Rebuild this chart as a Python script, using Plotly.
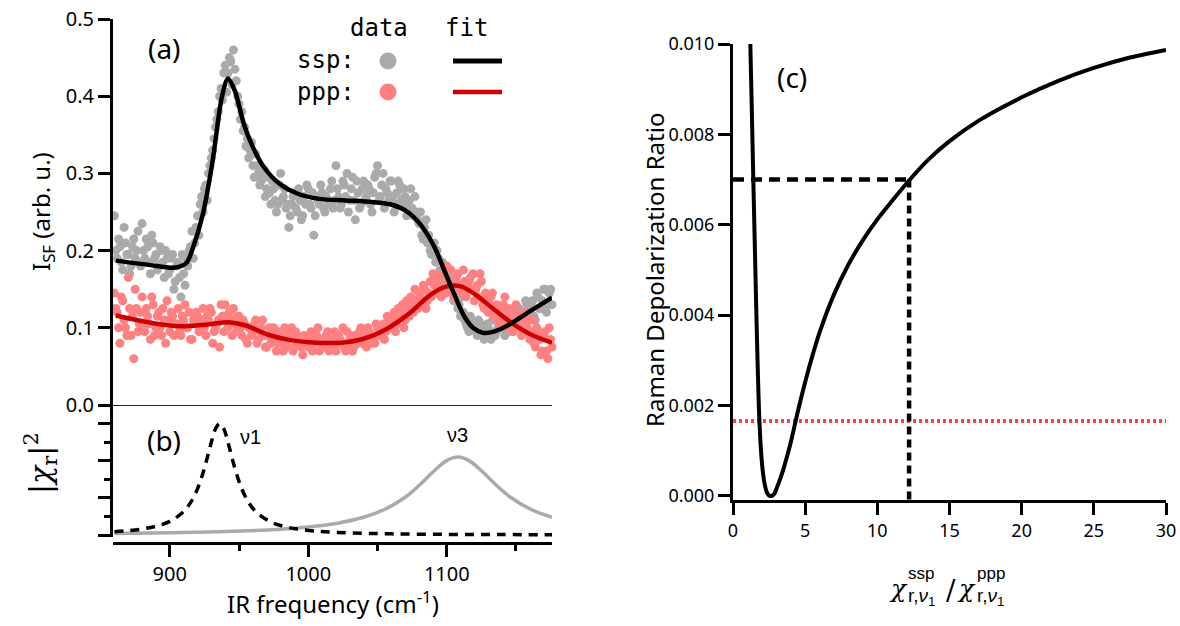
import plotly.graph_objects as go

W, H = 1180, 626

# ---------------- panel (a) data ----------------
freq_even = list(range(860, 1178, 2))
freq_odd = list(range(861, 1176, 2))
ssp_even = [
    0.245, 0.19, 0.205, 0.175, 0.21, 0.195, 0.18, 0.215, 0.2, 0.185,
    0.235, 0.19, 0.205, 0.17, 0.21, 0.195, 0.18, 0.2, 0.165, 0.19,
    0.175, 0.195, 0.16, 0.185, 0.14, 0.17, 0.19, 0.2, 0.225, 0.21,
    0.245, 0.26, 0.25, 0.285, 0.3, 0.32, 0.345, 0.37, 0.4, 0.395,
    0.44, 0.43, 0.445, 0.46, 0.42, 0.39, 0.38, 0.36, 0.345, 0.33,
    0.31, 0.325, 0.3, 0.29, 0.305, 0.28, 0.275, 0.29, 0.265, 0.26,
    0.3, 0.27, 0.255, 0.23, 0.26, 0.275, 0.25, 0.265, 0.245, 0.26,
    0.28, 0.255, 0.22, 0.27, 0.26, 0.275, 0.25, 0.265, 0.28, 0.255,
    0.31, 0.27, 0.26, 0.285, 0.3, 0.265, 0.295, 0.24, 0.275, 0.26,
    0.29, 0.27, 0.28, 0.25, 0.295, 0.31, 0.27, 0.3, 0.28, 0.265,
    0.29, 0.25, 0.275, 0.285, 0.26, 0.27, 0.255, 0.28, 0.245, 0.25,
    0.235, 0.22, 0.23, 0.21, 0.2, 0.205, 0.185, 0.19, 0.17, 0.175,
    0.165, 0.15, 0.145, 0.14, 0.125, 0.115, 0.12, 0.105, 0.095, 0.11,
    0.1, 0.09, 0.105, 0.095, 0.09, 0.1, 0.085, 0.11, 0.095, 0.1,
    0.115, 0.09, 0.105, 0.12, 0.1, 0.11, 0.125, 0.105, 0.115, 0.13,
    0.12, 0.135, 0.11, 0.14, 0.125, 0.15, 0.12, 0.145, 0.13,
]
ssp_odd = [
    0.2, 0.215, 0.185, 0.23, 0.195, 0.17, 0.205, 0.19, 0.225, 0.18,
    0.2, 0.215, 0.185, 0.22, 0.19, 0.175, 0.205, 0.185, 0.2, 0.17,
    0.19, 0.15, 0.18, 0.165, 0.195, 0.155, 0.18, 0.205, 0.19, 0.23,
    0.22, 0.27, 0.28, 0.265, 0.31, 0.33, 0.36, 0.38, 0.41, 0.43,
    0.405, 0.45, 0.415, 0.435, 0.4, 0.37, 0.355, 0.335, 0.32, 0.34,
    0.295, 0.31, 0.285, 0.3, 0.27, 0.295, 0.26, 0.28, 0.25, 0.285,
    0.265, 0.28, 0.26, 0.245, 0.27, 0.255, 0.28, 0.24, 0.27, 0.285,
    0.26, 0.275, 0.245, 0.265, 0.285, 0.255, 0.27, 0.26, 0.29, 0.265,
    0.28, 0.255, 0.29, 0.27, 0.25, 0.28, 0.265, 0.29, 0.255, 0.28,
    0.265, 0.285, 0.26, 0.275, 0.3, 0.265, 0.285, 0.255, 0.275, 0.29,
    0.27, 0.26, 0.29, 0.265, 0.28, 0.245, 0.265, 0.255, 0.27, 0.24,
    0.25, 0.215, 0.24, 0.22, 0.195, 0.21, 0.2, 0.175, 0.185, 0.16,
    0.155, 0.165, 0.135, 0.15, 0.13, 0.14, 0.11, 0.1, 0.115, 0.105,
    0.095, 0.11, 0.1, 0.085, 0.105, 0.095, 0.11, 0.09, 0.1, 0.12,
    0.1, 0.115, 0.095, 0.11, 0.125, 0.1, 0.12, 0.11, 0.135, 0.12,
    0.13, 0.115, 0.145, 0.125, 0.135, 0.15, 0.13, 0.15,
]
ppp_even = [
    0.145, 0.12, 0.08, 0.135, 0.1, 0.165, 0.09, 0.06, 0.125, 0.105,
    0.14, 0.095, 0.115, 0.085, 0.13, 0.1, 0.12, 0.09, 0.11, 0.135,
    0.095, 0.115, 0.105, 0.125, 0.09, 0.11, 0.1, 0.12, 0.085, 0.105,
    0.115, 0.1, 0.125, 0.09, 0.11, 0.12, 0.095, 0.105, 0.075, 0.115,
    0.13, 0.1, 0.11, 0.125, 0.095, 0.115, 0.09, 0.105, 0.08, 0.1,
    0.095, 0.11, 0.085, 0.1, 0.09, 0.075, 0.1, 0.085, 0.095, 0.08,
    0.09, 0.07, 0.095, 0.085, 0.1, 0.075, 0.09, 0.08, 0.065, 0.085,
    0.075, 0.095, 0.08, 0.09, 0.07, 0.085, 0.08, 0.095, 0.075, 0.085,
    0.07, 0.09, 0.08, 0.075, 0.095, 0.085, 0.07, 0.09, 0.08, 0.1,
    0.085, 0.075, 0.095, 0.09, 0.08, 0.1, 0.09, 0.105, 0.095, 0.11,
    0.1, 0.12, 0.105, 0.115, 0.13, 0.11, 0.125, 0.14, 0.12, 0.135,
    0.145, 0.13, 0.15, 0.135, 0.16, 0.17, 0.145, 0.155, 0.14, 0.165,
    0.18, 0.15, 0.16, 0.145, 0.17, 0.155, 0.175, 0.14, 0.16, 0.15,
    0.135, 0.155, 0.17, 0.13, 0.145, 0.12, 0.14, 0.115, 0.13, 0.105,
    0.12, 0.14, 0.1, 0.115, 0.095, 0.13, 0.105, 0.09, 0.12, 0.1,
    0.085, 0.11, 0.075, 0.095, 0.065, 0.09, 0.07, 0.1, 0.075,
]
ppp_odd = [
    0.125, 0.1, 0.14, 0.11, 0.09, 0.125, 0.115, 0.15, 0.095, 0.12,
    0.1, 0.125, 0.105, 0.14, 0.09, 0.115, 0.1, 0.125, 0.08, 0.11,
    0.12, 0.09, 0.105, 0.095, 0.115, 0.13, 0.1, 0.085, 0.11, 0.12,
    0.095, 0.11, 0.1, 0.115, 0.125, 0.08, 0.1, 0.11, 0.13, 0.095,
    0.11, 0.12, 0.09, 0.105, 0.115, 0.1, 0.11, 0.085, 0.1, 0.09,
    0.105, 0.08, 0.095, 0.11, 0.075, 0.09, 0.08, 0.1, 0.07, 0.095,
    0.08, 0.1, 0.075, 0.09, 0.07, 0.095, 0.085, 0.075, 0.09, 0.08,
    0.09, 0.07, 0.085, 0.1, 0.08, 0.075, 0.09, 0.07, 0.085, 0.095,
    0.08, 0.085, 0.1, 0.07, 0.08, 0.09, 0.075, 0.085, 0.095, 0.08,
    0.09, 0.1, 0.08, 0.085, 0.105, 0.09, 0.1, 0.085, 0.115, 0.1,
    0.11, 0.095, 0.125, 0.12, 0.1, 0.135, 0.115, 0.13, 0.15, 0.125,
    0.14, 0.155, 0.125, 0.145, 0.14, 0.155, 0.165, 0.15, 0.17, 0.145,
    0.16, 0.175, 0.14, 0.165, 0.155, 0.145, 0.16, 0.15, 0.165, 0.17,
    0.15, 0.14, 0.16, 0.125, 0.14, 0.13, 0.145, 0.125, 0.11, 0.125,
    0.13, 0.11, 0.125, 0.105, 0.12, 0.1, 0.115, 0.11, 0.095, 0.11,
    0.095, 0.08, 0.1, 0.085, 0.07, 0.095, 0.06, 0.085,
]
fit_ssp_freq = [861, 885, 904, 912, 917, 924, 931, 937.5, 942, 947, 953.5, 960, 968, 979,
                992, 1008, 1027, 1046, 1059, 1070, 1080.5, 1091, 1099, 1106, 1112.6, 1119,
                1126, 1134, 1145, 1158, 1176]
fit_ssp = [0.187, 0.1815, 0.178, 0.184, 0.205, 0.248, 0.317, 0.398, 0.423, 0.407, 0.364,
           0.334, 0.308, 0.287, 0.274, 0.267, 0.265, 0.263, 0.260, 0.252, 0.235, 0.205,
           0.171, 0.141, 0.115, 0.100, 0.0936, 0.095, 0.104, 0.119, 0.139]
fit_ppp_freq = [861, 885, 907, 925.5, 944, 955, 971, 987, 1005.7, 1024, 1040, 1056, 1072.5,
                1088.5, 1099, 1110, 1120.6, 1134, 1147, 1160.7, 1176]
fit_ppp = [0.116, 0.107, 0.102, 0.104, 0.107, 0.103, 0.091, 0.084, 0.0807, 0.0807, 0.0858,
           0.0979, 0.118, 0.143, 0.153, 0.1537, 0.143, 0.124, 0.106, 0.0914, 0.0807]

# ---------------- panel (b) data ----------------
nu1_freq = [860, 870, 880, 890, 900, 910, 915, 920, 925, 930, 933, 936, 939, 942, 947, 952,
            957, 962, 972, 982, 992, 1002, 1012, 1030, 1060, 1100, 1140, 1176]
nu1_val = [0.18, 0.24, 0.33, 0.48, 0.74, 1.27, 1.75, 2.49, 3.6, 5.0, 5.72, 6.0, 5.72, 5.0,
           3.6, 2.49, 1.75, 1.27, 0.74, 0.48, 0.33, 0.24, 0.18, 0.12, 0.07, 0.04, 0.03, 0.02]
nu3_freq = [860, 900, 940, 980, 1000, 1020, 1040, 1055, 1070, 1080, 1090, 1100, 1108, 1116,
            1126, 1136, 1146, 1161, 1176]
nu3_val = [0.09, 0.13, 0.19, 0.32, 0.44, 0.63, 0.96, 1.38, 2.04, 2.67, 3.40, 4.01, 4.2, 4.01,
           3.40, 2.67, 2.04, 1.38, 0.96]

# ---------------- panel (c) data ----------------
ratio = [1.15, 1.2, 1.3, 1.4, 1.5, 1.6, 1.7, 1.8, 1.9, 2.0, 2.1, 2.2, 2.35, 2.5, 2.68, 2.85,
         3.0, 3.25, 3.5, 3.75, 4.0, 4.5, 5.0, 5.5, 6.0, 7.0, 8.0, 9.0, 10.0, 11.0, 12.2,
         13.5, 15.0, 17.0, 20.0, 22.5, 25.0, 27.5, 30.0]
depol = [0.0108, 0.0100, 0.0086, 0.0071, 0.0057, 0.0043, 0.0030, 0.0019, 0.0012, 0.00075,
         0.00045, 0.00025, 0.00008, 0.00001, 0.0, 0.00004, 0.00015, 0.00036, 0.0006, 0.00088,
         0.00118, 0.00188, 0.00252, 0.0031, 0.00362, 0.00446, 0.00512, 0.00566, 0.00612,
         0.00652, 0.00698, 0.00743, 0.00785, 0.0083, 0.00882, 0.00918, 0.00947, 0.0097,
         0.00987]
ratio_pick = 12.2
depol_pick = 0.0070
depol_ref = 0.00166

GRAY = "#aaaaaa"
PINK = "#ff8080"
RED = "#cc0000"
TICKFONT = "Noto Sans"

fig = go.Figure()

# (a)
for fx, fy in ((freq_even, ssp_even), (freq_odd, ssp_odd)):
    fig.add_trace(go.Scatter(x=fx, y=fy, mode="markers", xaxis="x", yaxis="y",
                             marker=dict(color=GRAY, size=9, line=dict(width=0)),
                             cliponaxis=False, showlegend=False))
for fx, fy in ((freq_even, ppp_even), (freq_odd, ppp_odd)):
    fig.add_trace(go.Scatter(x=fx, y=fy, mode="markers", xaxis="x", yaxis="y",
                             marker=dict(color=PINK, size=9, line=dict(width=0)),
                             cliponaxis=False, showlegend=False))
fig.add_trace(go.Scatter(x=fit_ppp_freq, y=fit_ppp, mode="lines", xaxis="x", yaxis="y",
                         line=dict(color=RED, width=4.5, shape="spline", smoothing=1.0),
                         showlegend=False))
fig.add_trace(go.Scatter(x=fit_ssp_freq, y=fit_ssp, mode="lines", xaxis="x", yaxis="y",
                         line=dict(color="black", width=4.5, shape="spline", smoothing=0.8),
                         showlegend=False))

# (b)
fig.add_trace(go.Scatter(x=nu3_freq, y=nu3_val, mode="lines", xaxis="x2", yaxis="y2",
                         line=dict(color=GRAY, width=3.5, shape="spline", smoothing=1.0),
                         showlegend=False))
fig.add_trace(go.Scatter(x=nu1_freq, y=nu1_val, mode="lines", xaxis="x2", yaxis="y2",
                         line=dict(color="black", width=3.5, shape="spline", smoothing=1.0,
                                   dash="9px,7px"),
                         showlegend=False))

# (c)
fig.add_trace(go.Scatter(x=[0, 30], y=[depol_ref, depol_ref], mode="lines", xaxis="x3", yaxis="y3",
                         line=dict(color="#ff4040", width=4, dash="3px,3px"), showlegend=False))
fig.add_trace(go.Scatter(x=[0, ratio_pick], y=[depol_pick, depol_pick], mode="lines",
                         xaxis="x3", yaxis="y3",
                         line=dict(color="black", width=4.5, dash="11px,7px"), showlegend=False))
fig.add_trace(go.Scatter(x=[ratio_pick, ratio_pick], y=[depol_pick, -0.0001], mode="lines",
                         xaxis="x3", yaxis="y3",
                         line=dict(color="black", width=4.5, dash="8px,5px"), showlegend=False))
fig.add_trace(go.Scatter(x=ratio, y=depol, mode="lines", xaxis="x3", yaxis="y3",
                         line=dict(color="black", width=4, shape="spline", smoothing=0.8),
                         showlegend=False))


def px(x0, x1):
    return [x0 / W, x1 / W]


def py(top, bottom):
    return [1 - bottom / H, 1 - top / H]


XR = [859, 1176]
axis_common = dict(showgrid=False, zeroline=False, color="black", automargin=False)

layout = dict(
    template="none",
    width=W, height=H, margin=dict(l=0, r=0, t=0, b=0, pad=0, autoexpand=False),
    paper_bgcolor="white", plot_bgcolor="rgba(0,0,0,0)",
    font=dict(family=TICKFONT, color="black"),
    showlegend=False,
    xaxis=dict(domain=px(113, 552), range=XR, anchor="y", showline=True, linewidth=1,
               linecolor="#222", showticklabels=False, ticks="", **axis_common),
    yaxis=dict(domain=py(19, 405), range=[0, 0.5], anchor="x", showline=True, linewidth=3,
               linecolor="black", ticks="outside", ticklen=12, tickwidth=3, dtick=0.1,
               tickformat=".1f", tickfont=dict(size=20, family=TICKFONT), **axis_common),
    xaxis2=dict(domain=px(113, 552), range=XR, anchor="free", position=1 - 543 / H,
                showline=True, linewidth=3, linecolor="black", ticks="outside", ticklen=12,
                tickwidth=3, tick0=900, dtick=100,
                minor=dict(ticks="outside", ticklen=6, tickwidth=3, dtick=50, tick0=900,
                           tickcolor="black", showgrid=False),
                tickfont=dict(size=20, family=TICKFONT), **axis_common),
    yaxis2=dict(domain=py(405, 537), range=[-0.1, 7], anchor="x2", showline=True, linewidth=3,
                linecolor="black", ticks="outside", ticklen=12, tickwidth=3, tick0=0, dtick=2,
                minor=dict(ticks="outside", ticklen=6, tickwidth=3, dtick=1, tick0=0,
                           tickcolor="black", showgrid=False),
                showticklabels=False, **axis_common),
    xaxis3=dict(domain=px(733, 1166), range=[0, 30], anchor="y3", showline=True, linewidth=3,
                linecolor="black", ticks="outside", ticklen=12, tickwidth=3, dtick=5,
                tickfont=dict(size=18, family=TICKFONT), **axis_common),
    yaxis3=dict(domain=py(44, 500), range=[-0.00009, 0.010], anchor="x3", showline=True,
                linewidth=3, linecolor="black", ticks="outside", ticklen=12, tickwidth=3,
                tick0=0, dtick=0.002, tickformat=".3f",
                tickfont=dict(size=18, family=TICKFONT), **axis_common),
)
fig.update_layout(**layout)


def ann(text, x, y, size, family=TICKFONT, angle=0, xanchor="center", yanchor="middle", color="black"):
    return dict(text=text, x=x / W, y=1 - y / H, xref="paper", yref="paper", showarrow=False,
                font=dict(size=size, family=family, color=color), textangle=angle,
                xanchor=xanchor, yanchor=yanchor)


MONO = "DejaVu Sans Mono"
SERIF = "DejaVu Serif"
annotations = [
    ann("(a)", 164, 48, 28),
    ann("(b)", 164, 440, 28),
    ann("(c)", 792, 77, 28),
    ann("data", 379, 28, 24, MONO),
    ann("fit", 466, 28, 24, MONO),
    ann("ssp:", 326, 60, 24, MONO),
    ann("ppp:", 326, 92, 24, MONO),
    ann("I<sub>SF</sub> (arb. u.)", 42, 212, 24, angle=-90),
    ann("|<i>χ</i><sub>r</sub>|<sup>2</sup>", 40, 463, 30, SERIF, angle=-90),
    ann("IR frequency (cm<sup>-1</sup>)", 333, 602, 24),
    ann("Raman Depolarization Ratio", 655, 270, 24, angle=-90),
    # x-label of (c)
    ann("<i>χ</i>", 898, 588, 25, SERIF),
    ann("ssp", 906, 573, 17, "Liberation Sans", xanchor="left"),
    ann("r,<i>ν</i><sub>1</sub>", 906, 597, 19, "Liberation Sans", xanchor="left"),
    ann("/", 951, 590, 28, SERIF),
    ann("<i>χ</i>", 966, 588, 25, SERIF),
    ann("ppp", 975, 573, 17, "Liberation Sans", xanchor="left"),
    ann("r,<i>ν</i><sub>1</sub>", 975, 597, 19, "Liberation Sans", xanchor="left"),
    # peak labels in (b)
    dict(text="ν1", x=958, y=5.3, xref="x2", yref="y2", showarrow=False,
         font=dict(size=20, family="Liberation Sans", color="black")),
    dict(text="ν3", x=1108, y=5.4, xref="x2", yref="y2", showarrow=False,
         font=dict(size=20, family="Liberation Sans", color="black")),
]
fig.update_layout(annotations=annotations)


# legend glyphs (paper coordinates)
def circ(cx, cy, r, color):
    return dict(type="circle", xref="paper", yref="paper", x0=(cx - r) / W, x1=(cx + r) / W,
                y0=1 - (cy + r) / H, y1=1 - (cy - r) / H, fillcolor=color, line=dict(width=0))


def hline(x0, x1, y, color, w):
    return dict(type="line", xref="paper", yref="paper", x0=x0 / W, x1=x1 / W,
                y0=1 - y / H, y1=1 - y / H, line=dict(color=color, width=w))


fig.update_layout(shapes=[
    circ(388, 61, 8.5, GRAY), circ(388, 92, 8.5, PINK),
    hline(453, 502, 61, "black", 5), hline(453, 502, 92, RED, 4.5),
])

fig.write_html(
    "out.html",
    config={"displayModeBar": False},
    post_script="document.body.style.margin='0px';document.body.style.overflow='hidden';",
)
